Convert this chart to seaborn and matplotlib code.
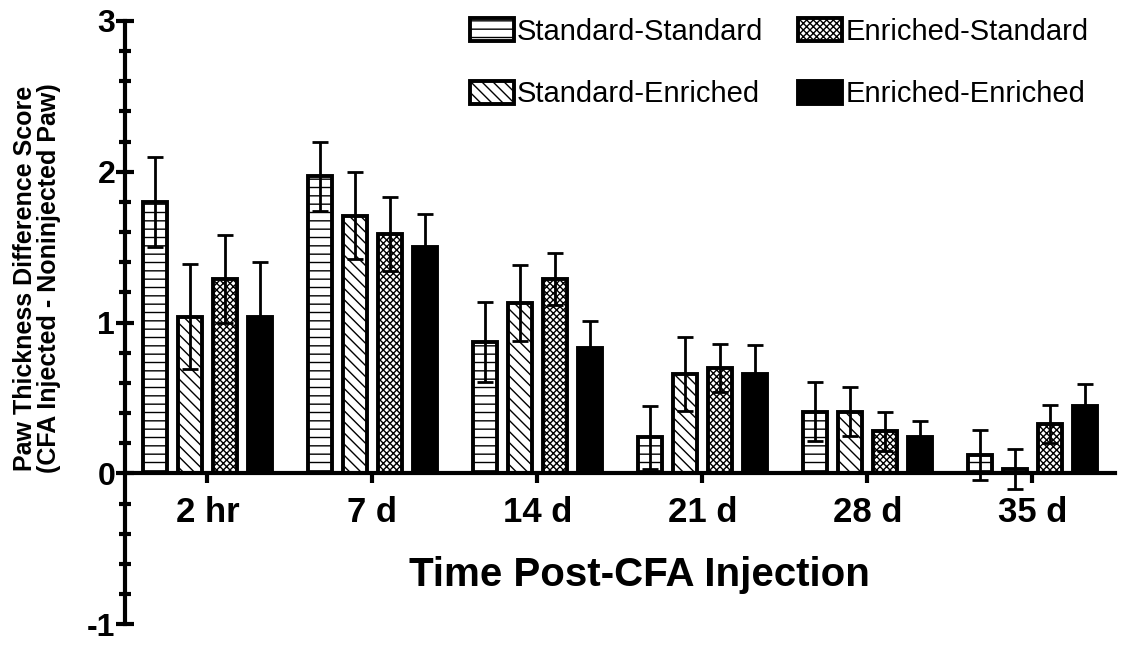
import matplotlib
matplotlib.use("Agg")
import matplotlib.pyplot as plt
from matplotlib import font_manager as fm
from matplotlib.ticker import MultipleLocator
import seaborn as sns
import pandas as pd

# ---- data ----
times = ["2 hr", "7 d", "14 d", "21 d", "28 d", "35 d"]
groups = ["Standard-Standard", "Standard-Enriched", "Enriched-Standard", "Enriched-Enriched"]
ss_mean = [1.80, 1.97, 0.87, 0.24, 0.41, 0.12]
ss_sem = [0.30, 0.23, 0.265, 0.21, 0.195, 0.165]
se_mean = [1.04, 1.71, 1.13, 0.66, 0.41, 0.03]
se_sem = [0.35, 0.29, 0.25, 0.245, 0.165, 0.13]
es_mean = [1.29, 1.59, 1.29, 0.70, 0.28, 0.33]
es_sem = [0.29, 0.245, 0.17, 0.16, 0.13, 0.125]
ee_mean = [1.04, 1.50, 0.83, 0.66, 0.24, 0.45]
ee_sem = [0.36, 0.22, 0.18, 0.19, 0.11, 0.14]

means = [ss_mean, se_mean, es_mean, ee_mean]
sems = [ss_sem, se_sem, es_sem, ee_sem]

rows = []
for g, m in zip(groups, means):
    for t, v in zip(times, m):
        rows.append({"time": t, "group": g, "value": v})
df = pd.DataFrame(rows)

sns.set_style("white")


def has_font(name):
    try:
        fm.findfont(fm.FontProperties(family=name), fallback_to_default=False)
        return True
    except Exception:
        return False


plt.rcParams["font.family"] = ["Liberation Sans", "DejaVu Sans"]
plt.rcParams["hatch.linewidth"] = 1.0
for k in ["text.color", "axes.labelcolor", "xtick.color", "ytick.color"]:
    plt.rcParams[k] = "black"
narrow = "Liberation Sans Narrow" if has_font("Liberation Sans Narrow") else None

fig = plt.figure(figsize=(11.25, 6.46), dpi=100)
ax = fig.add_axes([0.111, 0.0336, 0.88, 0.934])

palette = {groups[0]: "white", groups[1]: "white", groups[2]: "white", groups[3]: "black"}
sns.barplot(data=df, x="time", y="value", hue="group", order=times, hue_order=groups,
            palette=palette, saturation=1, errorbar=None, width=0.85, gap=0.3,
            edgecolor="black", linewidth=2.8, ax=ax, legend=False)

hatches = ["--", "\\\\\\", "xxxxx", ""]
bar_containers = list(ax.containers)[:4]
for cont, h, m, s in zip(bar_containers, hatches, means, sems):
    xs = []
    for bar in cont.patches:
        bar.set_hatch(h)
        bar.set_edgecolor("black")
        xs.append(bar.get_x() + bar.get_width() / 2)
    ax.errorbar(xs, m, yerr=s, fmt="none", ecolor="black", elinewidth=2.0,
                capsize=5.5, capthick=2.0, zorder=3)

# axes styling
ax.set_xlim(-0.5, 5.5)
ax.set_ylim(-1, 3)
for sp in ["top", "right"]:
    ax.spines[sp].set_visible(False)
ax.spines["bottom"].set_position(("data", 0))
ax.spines["left"].set_linewidth(3.0)
ax.spines["bottom"].set_linewidth(3.0)
ax.spines["left"].set_color("black")
ax.spines["bottom"].set_color("black")

ax.set_yticks([-1, 0, 1, 2, 3])
ax.set_yticklabels(["-1", "0", "1", "2", "3"])
ax.yaxis.set_minor_locator(MultipleLocator(0.2))
ax.tick_params(axis="y", which="major", direction="inout", length=13, width=3,
               labelsize=23, pad=0.5, left=True, color="black", labelcolor="black")
ax.tick_params(axis="y", which="minor", direction="inout", length=9, width=3,
               left=True, color="black")
ax.tick_params(axis="x", which="major", direction="out", length=7, width=3,
               labelsize=25, pad=9, bottom=True, color="black", labelcolor="black")
for lab in ax.get_yticklabels() + ax.get_xticklabels():
    lab.set_fontweight("bold")

ax.set_xlabel("Time Post-CFA Injection", fontsize=29, fontweight="bold", color="black")
ax.xaxis.set_label_coords(0.52, 0.113)
ax.set_ylabel("Paw Thickness Difference Score\n(CFA Injected - Noninjected Paw)",
              fontsize=18, fontweight="bold", linespacing=1.0, color="black")
ax.yaxis.label.set_va("center")
ax.yaxis.set_label_coords(-0.089, 0.574)

handles = [c.patches[0] for c in bar_containers]
leg_font = {"size": 26, "family": narrow} if narrow else {"size": 21}
leg = fig.legend(handles, groups, loc="upper left", bbox_to_anchor=(0.4026, 1.0),
                 ncol=2, frameon=False, prop=leg_font, handlelength=1.5,
                 handleheight=0.8, handletextpad=0.1, columnspacing=1.2,
                 labelspacing=1.2, borderaxespad=0.3, borderpad=0.3)
for t in leg.get_texts():
    t.set_color("black")

fig.savefig("out.png", dpi=100)
